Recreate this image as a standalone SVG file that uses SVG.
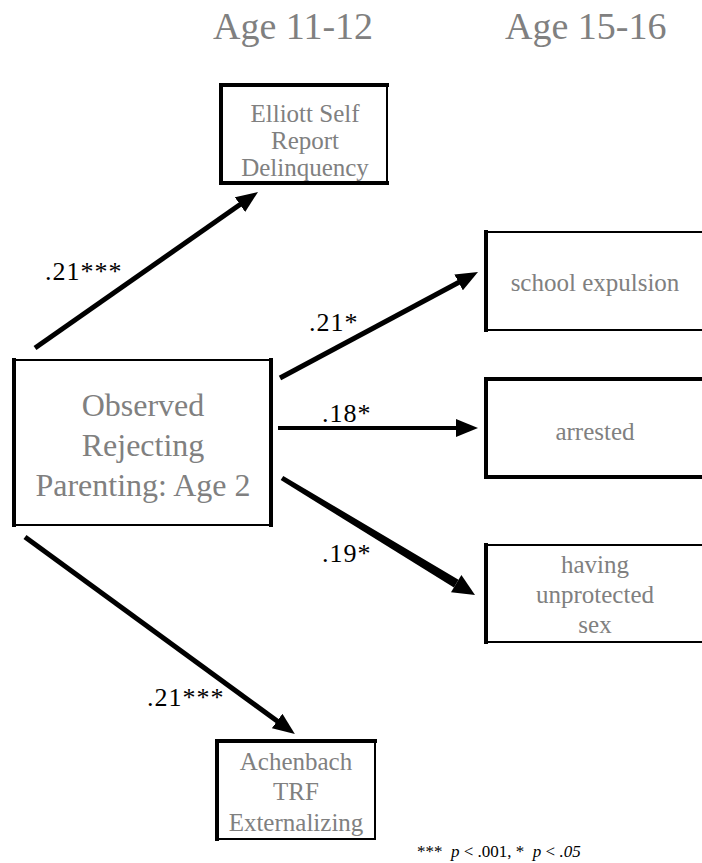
<svg xmlns="http://www.w3.org/2000/svg" width="702" height="863" viewBox="0 0 702 863">
<style>
  text { font-family: 'Liberation Serif', Tinos, 'Times New Roman', Times, 'DejaVu Serif', serif; }
  .title { font-size: 38px; fill: #808080; }
  .node text { fill: #808080; text-anchor: middle; }
  .big { font-size: 32px; }
  .med { font-size: 25px; }
  .box { fill: #ffffff; stroke: #000000; stroke-width: 2; }
  .thick { fill: none; stroke: #000000; stroke-width: 4; stroke-linecap: square; }
  .edge { stroke: #000000; fill: none; }
  .head { fill: #000000; }
  .lbl { font-size: 26px; fill: #000000; letter-spacing: 1px; }
  .note { font-size: 17px; fill: #000000; }
</style>
<defs>
  <marker id="arr" markerUnits="userSpaceOnUse" markerWidth="22" markerHeight="18" viewBox="0 0 22 18" refX="11" refY="9" orient="auto">
    <path class="head" d="M0,0 L22,9 L0,18 z"/>
  </marker>
</defs>
<rect width="702" height="863" fill="#ffffff"/>

<text class="title" x="213" y="39">Age 11-12</text>
<text class="title" x="505" y="39">Age 15-16</text>

<g id="connectors">
  <line class="edge" stroke-width="5" x1="35" y1="348" x2="249" y2="198.3" marker-end="url(#arr)"/>
  <line class="edge" stroke-width="5" x1="280" y1="378" x2="468.3" y2="277.2" marker-end="url(#arr)"/>
  <line class="edge" stroke-width="4" x1="278" y1="428" x2="467" y2="428" marker-end="url(#arr)"/>
  <path class="head" d="M283.3,475.9 L458.5,579.8 L453.9,587.4 L280.7,480.1 z"/>
  <path class="head" d="M451,592.2 L461.4,575.1 L475,595 z"/>
  <line class="edge" stroke-width="5" x1="25" y1="537" x2="286" y2="727.5" marker-end="url(#arr)"/>
</g>

<g id="labels">
  <text class="lbl" x="45" y="280">.21***</text>
  <text class="lbl" x="309" y="331">.21*</text>
  <text class="lbl" x="322" y="422">.18*</text>
  <text class="lbl" x="322" y="562">.19*</text>
  <text class="lbl" x="147" y="706">.21***</text>
</g>

<g id="node-elliott" class="node">
  <rect class="box" x="221" y="85" width="166" height="98"/>
  <path class="thick" d="M387,85 L221,85 L221,183 L387,183"/>
  <text class="med" x="305" y="122">Elliott Self</text>
  <text class="med" x="305" y="149">Report</text>
  <text class="med" x="305" y="176">Delinquency</text>
</g>

<g id="node-parenting" class="node">
  <rect class="box" x="14" y="360" width="257" height="165" stroke-width="1.5"/>
  <path class="thick" d="M14,360 L14,525 M271,360 L271,525" stroke-width="3.5"/>
  <text class="big" x="143" y="416">Observed</text>
  <text class="big" x="143" y="456">Rejecting</text>
  <text class="big" x="143" y="496">Parenting: Age 2</text>
</g>

<g id="node-school" class="node">
  <rect class="box" x="486" y="232" width="230" height="98"/>
  <path class="thick" d="M486,232 L486,330"/>
  <text class="med" x="595" y="291">school expulsion</text>
</g>

<g id="node-arrested" class="node">
  <rect class="box" x="486" y="379" width="230" height="98"/>
  <path class="thick" d="M716,379 L486,379 L486,477 L716,477"/>
  <text class="med" x="595" y="440">arrested</text>
</g>

<g id="node-sex" class="node">
  <rect class="box" x="486" y="545" width="230" height="97"/>
  <path class="thick" d="M486,545 L486,642"/>
  <text class="med" x="595" y="573">having</text>
  <text class="med" x="595" y="603">unprotected</text>
  <text class="med" x="595" y="633">sex</text>
</g>

<g id="node-achenbach" class="node">
  <rect class="box" x="217" y="741" width="158" height="98"/>
  <path class="thick" d="M375,741 L217,741 L217,839"/>
  <text class="med" x="296" y="770">Achenbach</text>
  <text class="med" x="296" y="800">TRF</text>
  <text class="med" x="296" y="831">Externalizing</text>
</g>

<text class="note" x="417" y="857" xml:space="preserve">***  <tspan font-style="italic">p</tspan> &lt; .001, *  <tspan font-style="italic">p</tspan> &lt; <tspan font-style="italic">.05</tspan></text>
</svg>
